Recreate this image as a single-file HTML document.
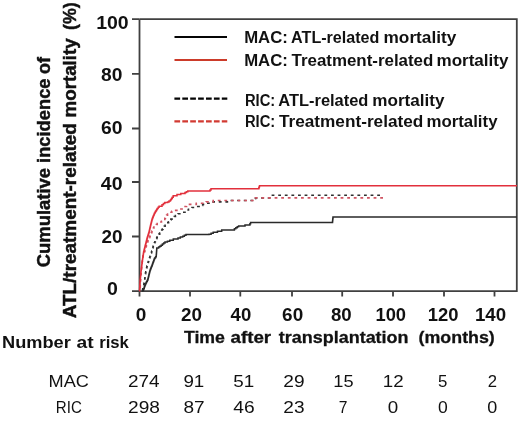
<!DOCTYPE html>
<html>
<head>
<meta charset="utf-8">
<style>
html,body{margin:0;padding:0;background:#fff;}
body{width:520px;height:425px;overflow:hidden;}
svg{display:block;filter:blur(0.3px);}
text{font-family:"Liberation Sans",sans-serif;fill:#111;}
.b{font-weight:bold;}
</style>
</head>
<body>
<svg width="520" height="425" viewBox="0 0 520 425">
<g fill="none" stroke="#404040" stroke-width="1.8">
<path d="M139.5 19.2 V291.2 H516.8 V19.2 H139.5"/>
<path d="M132 19.2 H139.5 M132 73.8 H139.5 M132 128.5 H139.5 M132 182 H139.5 M132 236.5 H139.5 M132 291.2 H139.5"/>
<path d="M139.5 291.2 V296.5 M190 291.2 V296.5 M240.3 291.2 V296.5 M292 291.2 V296.5 M342.2 291.2 V296.5 M393 291.2 V296.5 M444 291.2 V296.5 M494.5 291.2 V296.5"/>
</g>
<g fill="none" stroke-width="1.8" stroke-linejoin="miter">
<path stroke="#303030" stroke-width="1.6" stroke-dasharray="2.8 3.8" stroke-dashoffset="5.2" d="M141.50 291.00H142.60V289.60H142.78V288.68H142.96V287.76H143.14V286.84H143.32V285.92H143.50V285.00H143.83V284.03H144.17V283.07H144.50V282.10H144.60V281.05H144.70V280.00H144.80V278.95H144.90V277.90H145.00V277.04H145.10V276.18H145.20V275.32H145.30V274.46H145.40V273.60H145.60V272.68H145.80V271.76H146.00V270.84H146.20V269.92H146.40V269.00H146.58V268.04H146.76V267.08H146.94V266.12H147.12V265.16H147.30V264.20H147.65V263.27H148.00V262.35H148.35V261.43H148.70V260.50H148.98V259.64H149.26V258.78H149.54V257.92H149.82V257.06H150.10V256.20H150.45V255.15H150.80V254.10H151.15V253.05H151.50V252.00H151.78V251.00H152.06V250.00H152.34V249.00H152.62V248.00H152.90V247.00H153.28V245.95H153.65V244.90H154.03V243.85H154.40V242.80H154.87V241.70H155.33V240.60H155.80V239.50H156.26V238.64H156.72V237.78H157.18V236.92H157.64V236.06H158.10V235.20H158.90V234.10H159.70V233.00H160.50V231.90H161.12V230.97H161.73V230.03H162.35V229.10H162.97V228.17H163.58V227.23H164.20V226.30H165.13V225.37H166.07V224.43H167.00V223.50H167.78V222.62H168.56V221.74H169.34V220.86H170.12V219.98H170.90V219.10H172.00V218.23H173.10V217.37H174.20V216.50H175.43V215.57H176.67V214.63H177.90V213.70H182.60V212.30H185.00V210.90H186.75V210.05H188.50V209.20H190.25V208.35H192.00V207.50H195.55V206.45H199.10V205.40H202.65V204.35H206.20V203.30H213.20V201.90H227.40V200.50H255.00V200.40H255.17V199.60H255.33V198.80H255.50V198.00H271.00H271.17V197.10H271.33V196.20H271.50V195.30H383.00"/>
<path stroke="#d05462" stroke-width="1.6" stroke-dasharray="2.8 3.8" stroke-dashoffset="3.3" d="M140.00 291.00H140.05V290.09H140.09V289.18H140.14V288.27H140.18V287.36H140.23V286.45H140.27V285.55H140.32V284.64H140.36V283.73H140.41V282.82H140.45V281.91H140.50V281.00H140.57V280.09H140.65V279.18H140.72V278.27H140.79V277.36H140.86V276.45H140.94V275.55H141.01V274.64H141.08V273.73H141.15V272.82H141.23V271.91H141.30V271.00H141.39V270.00H141.48V269.00H141.57V268.00H141.66V267.00H141.74V266.00H141.83V265.00H141.92V264.00H142.01V263.00H142.10V262.00H142.26V261.00H142.41V260.00H142.57V259.00H142.73V258.00H142.89V257.00H143.04V256.00H143.20V255.00H143.63V253.90H144.07V252.80H144.50V251.70H144.77V250.76H145.04V249.81H145.31V248.87H145.59V247.93H145.86V246.99H146.13V246.04H146.40V245.10H146.70V244.17H147.00V243.23H147.30V242.30H147.60V241.37H147.90V240.43H148.20V239.50H148.68V238.56H149.16V237.62H149.64V236.68H150.12V235.74H150.60V234.80H150.95V233.85H151.30V232.90H151.65V231.95H152.00V231.00H152.47V230.00H152.95V229.00H153.43V228.00H153.90V227.00H154.72V226.15H155.55V225.30H156.38V224.45H157.20V223.60H158.63V222.80H160.07V222.00H161.50V221.20H162.60V220.27H163.70V219.33H164.80V218.40H165.40V217.30H166.00V216.20H166.60V215.10H167.57V214.17H168.53V213.23H169.50V212.30H171.85V211.35H174.20V210.40H178.90V209.00H183.60V207.60H185.07V206.53H186.53V205.47H188.00V204.40H196.30V203.30H206.20V201.90H213.20V200.50H255.00H255.17V199.63H255.33V198.77H255.50V197.90H383.00"/>
<path stroke="#2a2a2a" stroke-width="1.5" d="M142.00 291.00H142.60V290.60H143.50V289.20H143.88V288.16H144.26V287.12H144.64V286.08H145.02V285.04H145.40V284.00H145.88V283.06H146.36V282.12H146.84V281.18H147.32V280.24H147.80V279.30H148.06V278.26H148.31V277.21H148.57V276.17H148.82V275.12H149.08V274.08H149.33V273.03H149.59V271.99H149.84V270.94H150.10V269.90H150.48V268.96H150.86V268.02H151.24V267.08H151.62V266.14H152.00V265.20H152.34V264.26H152.69V263.31H153.03V262.37H153.37V261.43H153.71V260.49H154.06V259.54H154.40V258.60H155.00V257.67H155.60V256.73H156.20V255.80H156.27V254.85H156.35V253.90H156.43V252.95H156.50V252.00H156.57V251.00H156.65V250.00H156.73V249.00H156.80V248.00H158.60V247.00H159.80V246.20H161.10V245.15H162.40V244.10H163.70V243.05H165.00V242.00H167.40V241.15H169.80V240.30H173.30V239.10H178.00V238.00H180.35V237.10H182.70V236.20H184.35V235.35H186.00V234.50H209.00V234.20H211.10V233.20H213.20V232.20H217.45V231.15H221.70V230.10H234.40V228.70H235.80V227.77H237.20V226.83H238.60V225.90H245.00V224.90H249.20H249.90V223.75H250.60V222.60H332.40H332.50V221.67H332.60V220.73H332.70V219.80H332.80V218.87H332.90V217.93H333.00V217.00H517.00"/>
<path stroke="#e2303c" stroke-width="1.5" d="M139.50 291.00H139.56V290.00H139.62V289.00H139.68V288.00H139.74V287.00H139.80V286.00H139.86V285.00H139.92V284.00H139.98V283.00H140.04V282.00H140.10V281.00H140.19V280.00H140.28V279.00H140.37V278.00H140.46V277.00H140.55V276.00H140.64V275.00H140.73V274.00H140.82V273.00H140.91V272.00H141.00V271.00H141.13V270.00H141.25V269.00H141.38V268.00H141.51V267.00H141.64V266.00H141.76V265.00H141.89V264.00H142.02V263.00H142.15V262.00H142.27V261.00H142.40V260.00H142.55V259.00H142.70V258.00H142.85V257.00H143.00V256.00H143.15V255.00H143.30V254.00H143.45V253.00H143.60V252.00H143.87V250.92H144.13V249.83H144.40V248.75H144.67V247.67H144.93V246.58H145.20V245.50H145.47V244.44H145.75V243.38H146.03V242.31H146.30V241.25H146.57V240.19H146.85V239.12H147.12V238.06H147.40V237.00H147.72V236.00H148.04V235.00H148.36V234.00H148.68V233.00H149.00V232.00H149.23V231.00H149.46V230.00H149.69V229.00H149.91V228.00H150.14V227.00H150.37V226.00H150.60V225.00H150.85V224.00H151.10V223.00H151.35V222.00H151.60V221.00H151.85V220.00H152.10V219.00H152.48V218.03H152.87V217.07H153.25V216.10H153.63V215.13H154.02V214.17H154.40V213.20H154.96V212.26H155.52V211.32H156.08V210.38H156.64V209.44H157.20V208.50H158.15V207.35H159.10V206.20H162.00V204.80H163.40V203.60H164.80V202.40H167.60V202.00H169.00V201.05H170.40V200.10H171.03V199.13H171.67V198.17H172.30V197.20H173.20V195.80H177.00V194.40H180.80V193.50H185.00V192.50H186.40V191.75H187.80V191.00H209.00H210.00V189.90H211.00V188.80H258.50H258.83V187.80H259.17V186.80H259.50V185.80H517.00"/>
</g>
<g fill="none" stroke-width="2.2">
<line x1="174.5" y1="37" x2="227" y2="37" stroke="#050505"/>
<line x1="174.5" y1="60" x2="227" y2="60" stroke="#cc3b2a"/>
<line x1="174.4" y1="98.6" x2="227.3" y2="98.6" stroke="#050505" stroke-dasharray="5.7 2.2"/>
<line x1="174.4" y1="121.4" x2="227.3" y2="121.4" stroke="#d23a32" stroke-dasharray="5.7 2.2"/>
</g>
<text class="b" font-size="16" x="244.18" y="43.00" textLength="43.63" lengthAdjust="spacingAndGlyphs">MAC:</text>
<text class="b" font-size="16" x="291.10" y="43.00" textLength="88.34" lengthAdjust="spacingAndGlyphs">ATL-related</text>
<text class="b" font-size="16" x="383.56" y="43.00" textLength="72.73" lengthAdjust="spacingAndGlyphs">mortality</text>
<text class="b" font-size="16" x="244.18" y="65.60" textLength="43.63" lengthAdjust="spacingAndGlyphs">MAC:</text>
<text class="b" font-size="16" x="291.61" y="65.60" textLength="141.69" lengthAdjust="spacingAndGlyphs">Treatment-related</text>
<text class="b" font-size="16" x="436.48" y="65.60" textLength="72.02" lengthAdjust="spacingAndGlyphs">mortality</text>
<text class="b" font-size="16" x="244.91" y="106.00" textLength="30.30" lengthAdjust="spacingAndGlyphs">RIC:</text>
<text class="b" font-size="16" x="278.30" y="106.00" textLength="90.07" lengthAdjust="spacingAndGlyphs">ATL-related</text>
<text class="b" font-size="16" x="372.27" y="106.00" textLength="72.12" lengthAdjust="spacingAndGlyphs">mortality</text>
<text class="b" font-size="16" x="244.91" y="127.40" textLength="30.30" lengthAdjust="spacingAndGlyphs">RIC:</text>
<text class="b" font-size="16" x="278.91" y="127.40" textLength="144.42" lengthAdjust="spacingAndGlyphs">Treatment-related</text>
<text class="b" font-size="16" x="426.49" y="127.40" textLength="71.00" lengthAdjust="spacingAndGlyphs">mortality</text>
<text class="b" font-size="18" x="96.17" y="28.50" textLength="32.53" lengthAdjust="spacingAndGlyphs">100</text>
<text class="b" font-size="18" x="101.09" y="81.20" textLength="21.40" lengthAdjust="spacingAndGlyphs">80</text>
<text class="b" font-size="18" x="100.99" y="133.80" textLength="21.50" lengthAdjust="spacingAndGlyphs">60</text>
<text class="b" font-size="18" x="100.80" y="189.60" textLength="21.70" lengthAdjust="spacingAndGlyphs">40</text>
<text class="b" font-size="18" x="101.44" y="243.00" textLength="21.03" lengthAdjust="spacingAndGlyphs">20</text>
<text class="b" font-size="18" x="106.93" y="294.50" textLength="10.88" lengthAdjust="spacingAndGlyphs">0</text>
<text class="b" font-size="17.6" x="135.80" y="320.50" textLength="10.58" lengthAdjust="spacingAndGlyphs">0</text>
<text class="b" font-size="17.6" x="180.90" y="320.50" textLength="20.98" lengthAdjust="spacingAndGlyphs">20</text>
<text class="b" font-size="17.6" x="230.62" y="320.50" textLength="20.64" lengthAdjust="spacingAndGlyphs">40</text>
<text class="b" font-size="17.6" x="282.11" y="320.50" textLength="21.07" lengthAdjust="spacingAndGlyphs">60</text>
<text class="b" font-size="17.6" x="330.91" y="320.50" textLength="20.76" lengthAdjust="spacingAndGlyphs">80</text>
<text class="b" font-size="17.6" x="375.44" y="320.50" textLength="30.61" lengthAdjust="spacingAndGlyphs">100</text>
<text class="b" font-size="17.6" x="427.84" y="320.50" textLength="30.71" lengthAdjust="spacingAndGlyphs">120</text>
<text class="b" font-size="17.6" x="474.92" y="320.50" textLength="31.14" lengthAdjust="spacingAndGlyphs">140</text>
<text class="b" font-size="17.2" x="183.90" y="342.60" textLength="41.00" lengthAdjust="spacingAndGlyphs" stroke="#111" stroke-width="0.3">Time</text>
<text class="b" font-size="17.2" x="230.55" y="342.60" textLength="40.63" lengthAdjust="spacingAndGlyphs" stroke="#111" stroke-width="0.3">after</text>
<text class="b" font-size="17.2" x="278.88" y="342.60" textLength="129.63" lengthAdjust="spacingAndGlyphs" stroke="#111" stroke-width="0.3">transplantation</text>
<text class="b" font-size="17.2" x="418.61" y="342.60" textLength="76.17" lengthAdjust="spacingAndGlyphs" stroke="#111" stroke-width="0.3">(months)</text>
<text class="b" font-size="16" x="2.08" y="348.00" textLength="68.69" lengthAdjust="spacingAndGlyphs">Number</text>
<text class="b" font-size="16" x="76.64" y="348.00" textLength="17.10" lengthAdjust="spacingAndGlyphs">at</text>
<text class="b" font-size="16" x="99.20" y="348.00" textLength="29.68" lengthAdjust="spacingAndGlyphs">risk</text>
<text font-size="17" x="48.51" y="386.60" textLength="40.38" lengthAdjust="spacingAndGlyphs">MAC</text>
<text font-size="17" x="128.05" y="386.60" textLength="31.61" lengthAdjust="spacingAndGlyphs">274</text>
<text font-size="17" x="183.42" y="386.60" textLength="20.90" lengthAdjust="spacingAndGlyphs">91</text>
<text font-size="17" x="233.34" y="386.60" textLength="20.98" lengthAdjust="spacingAndGlyphs">51</text>
<text font-size="17" x="283.34" y="386.60" textLength="21.27" lengthAdjust="spacingAndGlyphs">29</text>
<text font-size="17" x="333.31" y="386.60" textLength="20.25" lengthAdjust="spacingAndGlyphs">15</text>
<text font-size="17" x="382.87" y="386.60" textLength="20.87" lengthAdjust="spacingAndGlyphs">12</text>
<text font-size="17" x="437.92" y="386.60" textLength="9.38" lengthAdjust="spacingAndGlyphs">5</text>
<text font-size="17" x="487.76" y="386.60" textLength="9.28" lengthAdjust="spacingAndGlyphs">2</text>
<text font-size="17" x="55.86" y="412.60" textLength="26.01" lengthAdjust="spacingAndGlyphs">RIC</text>
<text font-size="17" x="128.04" y="412.60" textLength="31.89" lengthAdjust="spacingAndGlyphs">298</text>
<text font-size="17" x="183.47" y="412.60" textLength="21.19" lengthAdjust="spacingAndGlyphs">87</text>
<text font-size="17" x="233.36" y="412.60" textLength="21.39" lengthAdjust="spacingAndGlyphs">46</text>
<text font-size="17" x="283.34" y="412.60" textLength="21.20" lengthAdjust="spacingAndGlyphs">23</text>
<text font-size="17" x="338.70" y="412.60" textLength="8.69" lengthAdjust="spacingAndGlyphs">7</text>
<text font-size="17" x="387.86" y="412.60" textLength="10.47" lengthAdjust="spacingAndGlyphs">0</text>
<text font-size="17" x="437.91" y="412.60" textLength="9.77" lengthAdjust="spacingAndGlyphs">0</text>
<text font-size="17" x="487.30" y="412.60" textLength="10.01" lengthAdjust="spacingAndGlyphs">0</text>
<text class="b" font-size="17.6" transform="translate(49.60 320.00) rotate(-90)" x="52.74" y="0" textLength="99.29" lengthAdjust="spacingAndGlyphs" stroke="#111" stroke-width="0.45">Cumulative</text>
<text class="b" font-size="17.6" transform="translate(49.60 320.00) rotate(-90)" x="157.12" y="0" textLength="84.40" lengthAdjust="spacingAndGlyphs" stroke="#111" stroke-width="0.45">incidence</text>
<text class="b" font-size="17.6" transform="translate(49.60 320.00) rotate(-90)" x="246.09" y="0" textLength="17.07" lengthAdjust="spacingAndGlyphs" stroke="#111" stroke-width="0.45">of</text>
<text class="b" font-size="17.6" transform="translate(76.20 320.00) rotate(-90)" x="1.73" y="0" textLength="195.11" lengthAdjust="spacingAndGlyphs" stroke="#111" stroke-width="0.45">ATL/treatment-related</text>
<text class="b" font-size="17.6" transform="translate(76.20 320.00) rotate(-90)" x="202.57" y="0" textLength="79.03" lengthAdjust="spacingAndGlyphs" stroke="#111" stroke-width="0.45">mortality</text>
<text class="b" font-size="17.6" transform="translate(76.20 320.00) rotate(-90)" x="290.02" y="0" textLength="27.57" lengthAdjust="spacingAndGlyphs" stroke="#111" stroke-width="0.45">(%)</text>
</svg>
</body>
</html>
